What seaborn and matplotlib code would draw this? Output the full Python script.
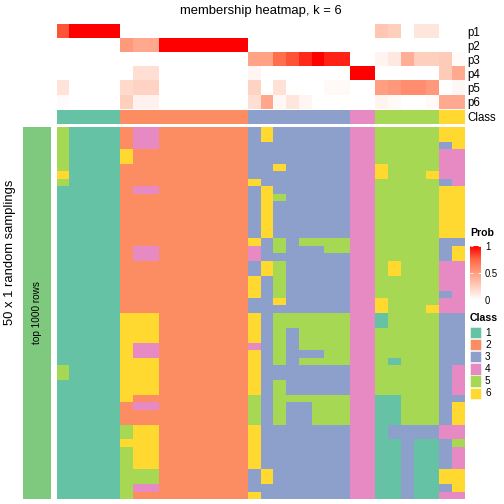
import numpy as np
import pandas as pd
import matplotlib
matplotlib.use('Agg')
import matplotlib.pyplot as plt
from matplotlib.colors import ListedColormap, LinearSegmentedColormap
from matplotlib.patches import Rectangle
import seaborn as sns

plt.rcParams['font.family'] = ['Liberation Sans', 'DejaVu Sans']

# ---- data ----
class_colors = ['#66C2A5', '#FC8D62', '#8DA0CB', '#E78AC3', '#A6D854', '#FFD92F']
class_names = ['1', '2', '3', '4', '5', '6']
prob_names = ['p1', 'p2', 'p3', 'p4', 'p5', 'p6']

# consensus class of each of the 32 columns
column_class = "11111 2222222222 33333333 44 55555 66"

# membership probabilities per column
p1 = [0.8, 1, 1, 1, 1] + [0] * 10 + [0] * 8 + [0, 0] + [0.3, 0.25, 0, 0.13, 0.13] + [0, 0]
p2 = [0] * 5 + [0.52, 0.45, 0.45, 1, 1, 1, 1, 1, 1, 1] + [0] * 8 + [0, 0] + [0] * 5 + [0, 0]
p3 = [0] * 5 + [0] * 10 + [0.48, 0.48, 0.72, 0.8, 0.9, 1, 0.92, 0.92] + [0, 0] + \
     [0.06, 0.12, 0.42, 0.25, 0.25] + [0.27, 0.02]
p4 = [0] * 5 + [0, 0.17, 0.17, 0, 0, 0, 0, 0, 0, 0] + [0.05, 0, 0, 0, 0, 0, 0, 0] + [1, 1] + \
     [0] * 5 + [0.27, 0.44]
p5 = [0.15, 0, 0, 0, 0] + [0.2, 0.23, 0.23, 0, 0, 0, 0, 0, 0, 0] + \
     [0.23, 0, 0.16, 0, 0, 0, 0.03, 0.03] + [0, 0] + [0.5, 0.53, 0.58, 0.58, 0.52] + [0, 0.04]
p6 = [0.02, 0, 0, 0, 0] + [0.25, 0.07, 0.07, 0, 0, 0, 0, 0, 0, 0] + \
     [0.17, 0.46, 0.04, 0.13, 0.05, 0, 0, 0] + [0, 0] + [0.06, 0.03, 0, 0, 0.03] + [0.44, 0.44]

# class assigned in each of the 50 random samplings (rows) x 32 columns
sampling_rows = [
    "51111 2442222222 36333333 44 55555 66",
    "51111 2442222222 36333333 44 55555 66",
    "51111 2442222222 33333333 44 55555 36",
    "51111 6222222222 33333333 44 55555 44",
    "51111 6222222222 33333333 44 55555 44",
    "51111 2222222222 33633333 44 65555 44",
    "61111 2222222222 33333333 44 65556 44",
    "51111 2222222222 63333333 44 55555 34",
    "11111 2442222222 36333333 44 55555 66",
    "11111 2222222222 36533333 44 55555 66",
    "11111 2222222222 36333333 44 55555 66",
    "11111 2222222222 36333333 44 55555 66",
    "11111 2222222222 36333333 44 55555 66",
    "11111 2222222222 36333333 44 55555 66",
    "11111 2222222222 36333333 44 55555 66",
    "11111 2222222222 63535555 44 55555 33",
    "11111 2442222222 43533355 44 55555 36",
    "11111 2442222222 43333333 44 55555 36",
    "11111 2222222222 36533333 44 56555 44",
    "11111 2222222222 36533333 44 56555 44",
    "11111 2222222222 63533333 44 55555 44",
    "11111 2222222222 63533333 44 55555 44",
    "11111 2222222222 63533333 44 55555 34",
    "11111 2222222222 33633333 44 65555 44",
    "11111 2222222222 33333333 44 65556 44",
    "11111 6662222222 63555555 44 15555 33",
    "11111 6662222222 63555555 44 15555 33",
    "11111 6662222222 63535555 44 55555 33",
    "11111 6662222222 63535555 44 55555 33",
    "11111 6442222222 43535555 44 55555 33",
    "11111 6442222222 63533355 44 55555 33",
    "11111 6662222222 63535555 44 51555 33",
    "51111 6662222222 63333333 44 55555 34",
    "51111 6662222222 63333333 44 55555 34",
    "11111 6662222222 63533333 44 55555 34",
    "11111 6662222222 63533333 44 55555 34",
    "11111 6222222222 53555555 44 11555 33",
    "11111 2442222222 53533555 44 11555 36",
    "11111 2222222222 53533555 44 11555 36",
    "11111 2222222222 53533555 44 11555 36",
    "11111 5662222222 63333333 44 13333 44",
    "11111 5662222222 63333333 44 13333 44",
    "11111 6662222222 63333333 44 11311 35",
    "11111 5662222222 63333333 44 11311 34",
    "11111 5662222222 63333333 44 11311 34",
    "11111 5662222222 63333333 44 11311 34",
    "11111 5552222222 36333333 44 11311 66",
    "11111 5552222222 36333333 44 11311 66",
    "11111 5442222222 33333333 44 11311 36",
    "11111 5222222222 63333333 44 11311 44",
]

# ---- build tables ----
def digits(s):
    return [int(c) for c in s.replace(' ', '')]

grid = np.array([digits(r) for r in sampling_rows])
cls = np.array([digits(column_class)])
prob = pd.DataFrame([p1, p2, p3, p4, p5, p6], index=prob_names)

class_cmap = ListedColormap(class_colors)
prob_cmap = LinearSegmentedColormap.from_list(
    'prob', [(0, '#FFFFFF'), (0.25, '#FFCFBE'), (0.5, '#FF9E81'), (0.75, '#FF6846'), (1, '#FF0000')])

W = H = 504.0
def rect(x0, y0, x1, y1):
    return [x0 / W, 1 - y1 / H, (x1 - x0) / W, (y1 - y0) / H]

fig = plt.figure(figsize=(7, 7), dpi=72)

hx0, hx1 = 56.7, 464.7

# probability annotation
ax_p = fig.add_axes(rect(hx0, 24, hx1, 108.7))
cax = fig.add_axes(rect(470, 246, 481, 300))
sns.heatmap(prob, cmap=prob_cmap, vmin=0, vmax=1, ax=ax_p, cbar_ax=cax,
            xticklabels=False, yticklabels=True, cbar_kws={'ticks': [0, 0.5, 1]})
ax_p.yaxis.tick_right()
ax_p.tick_params(axis='y', length=0, pad=3, labelsize=11.5, rotation=0)
cbar = ax_p.collections[0].colorbar
cbar.outline.set_visible(False)
cbar.set_ticklabels(['0', '0.5', '1'])
cax.tick_params(axis='y', length=3, width=0.8, color='white', direction='in',
                left=True, labelsize=9.5, pad=4)

# class annotation
ax_c = fig.add_axes(rect(hx0, 109.7, hx1, 123.7))
sns.heatmap(cls, cmap=class_cmap, vmin=0.5, vmax=6.5, cbar=False, ax=ax_c,
            xticklabels=False, yticklabels=['Class'])
ax_c.yaxis.tick_right()
ax_c.tick_params(axis='y', length=0, pad=3, labelsize=11.5, rotation=0)

# main membership heatmap
ax_m = fig.add_axes(rect(hx0, 126.7, hx1, 499))
sns.heatmap(grid, cmap=class_cmap, vmin=0.5, vmax=6.5, cbar=False, ax=ax_m,
            xticklabels=False, yticklabels=False)

# left row annotation
ax_l = fig.add_axes(rect(22.7, 126.7, 50.7, 499))
sns.heatmap([[1]], cmap=ListedColormap(['#7FC97F']), cbar=False, ax=ax_l,
            xticklabels=False, yticklabels=False)
ax_l.text(0.5, 0.5, 'top 1000 rows', rotation=90, ha='center', va='center',
          fontsize=10, transform=ax_l.transAxes)

fig.text(260.7 / W, 1 - 11 / H, 'membership heatmap, k = 6', ha='center', va='center', fontsize=13)
fig.text(10 / W, 1 - 252.5 / H, '50 x 1 random samplings', rotation=90,
         ha='center', va='center', fontsize=13)

# legends
ov = fig.add_axes([0, 0, 1, 1])
ov.set_xlim(0, W)
ov.set_ylim(H, 0)
ov.axis('off')
ov.text(470, 233, 'Prob', fontweight='bold', fontsize=10.5, va='center', ha='left')
ov.text(470, 318, 'Class', fontweight='bold', fontsize=10.5, va='center', ha='left')
for i, (c, n) in enumerate(zip(class_colors, class_names)):
    y0 = 326.5 + 12.2 * i
    ov.add_patch(Rectangle((470, y0), 11, 11.5, facecolor=c, edgecolor='white', lw=0.5))
    ov.text(485, y0 + 6, n, fontsize=10, va='center', ha='left')

fig.savefig('out.png', dpi=72)
